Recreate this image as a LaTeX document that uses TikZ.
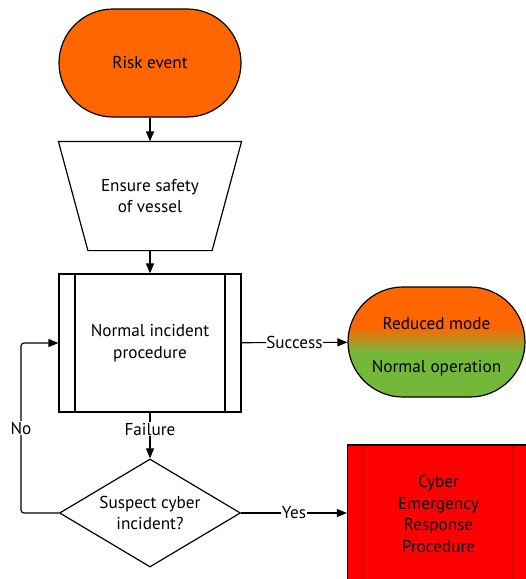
\documentclass[tikz,border=0pt]{standalone}
\usepackage{fontspec}
\setmainfont{PT Sans}
\usetikzlibrary{arrows.meta,shapes.geometric}
\definecolor{riskorange}{HTML}{FF6600}
\definecolor{okgreen}{HTML}{74B83A}
\definecolor{cyberred}{HTML}{FF0000}
\pgfdeclareverticalshading{modeshade}{100bp}{color(0bp)=(okgreen); color(45bp)=(okgreen); color(57bp)=(riskorange); color(100bp)=(riskorange)}
\tikzset{
  base/.style={line width=1.2pt, align=center, font=\fontsize{17.2}{21.5}\selectfont, inner sep=0pt},
  terminal/.style={base, draw, rectangle, rounded corners=54pt, minimum width=182pt, minimum height=108pt},
  predef/.style={base, draw, rectangle, minimum width=182pt, minimum height=138pt,
    path picture={
      \draw[line width=1.2pt] ([xshift=16pt]path picture bounding box.north west) -- ([xshift=16pt]path picture bounding box.south west);
      \draw[line width=1.2pt] ([xshift=-16pt]path picture bounding box.north east) -- ([xshift=-16pt]path picture bounding box.south east);
    }},
  decision/.style={base, draw, diamond, aspect=1.676, minimum width=181pt, minimum height=108pt},
  conn/.style={line width=1.2pt, -{Triangle[length=10pt,width=8pt]}},
  lbl/.style={fill=white, inner sep=0.6pt, font=\fontsize{17.2}{20}\selectfont},
}
\begin{document}
\begin{tikzpicture}[x=1pt,y=-1pt]
\useasboundingbox (0,0) rectangle (526,579);
\node[terminal, fill=riskorange] (risk) at (150,63) {Risk event};
\node[base, minimum width=182pt, minimum height=108pt] (safe) at (150,196) {Ensure safety\\of vessel};
\draw[line width=1.2pt] (safe.north west) -- (safe.north east) -- ([xshift=-29.5pt]safe.south east) -- ([xshift=29.5pt]safe.south west) -- cycle;
\node[predef] (proc) at (150,343) {Normal incident\\procedure};
\node[base, draw, rectangle, rounded corners=55pt, minimum width=177pt, minimum height=110pt, shading=modeshade] (mode) at (436.5,342) {\rule{0pt}{21pt}Reduced mode\\[21.5pt]Normal operation};
\node[decision] (dec) at (150,513) {Suspect cyber\\incident?};
\node[predef, fill=cyberred] (cyber) at (438.5,514) {Cyber\\Emergency\\Response\\Procedure};
\coordinate (nobend) at (21,513);
\draw[conn] (risk) -- (safe);
\draw[conn] (safe) -- (proc);
\draw[conn] (proc) -- node[lbl]{Success} (mode);
\draw[conn] (proc) -- node[lbl, pos=0.36]{Failure} (dec);
\draw[conn] (dec) -- node[lbl]{Yes} (cyber.west |- dec);
\draw[conn, rounded corners=3pt] (dec.west) -- (nobend) -- node[lbl]{No} (nobend |- proc) -- (proc.west);
\end{tikzpicture}
\end{document}
